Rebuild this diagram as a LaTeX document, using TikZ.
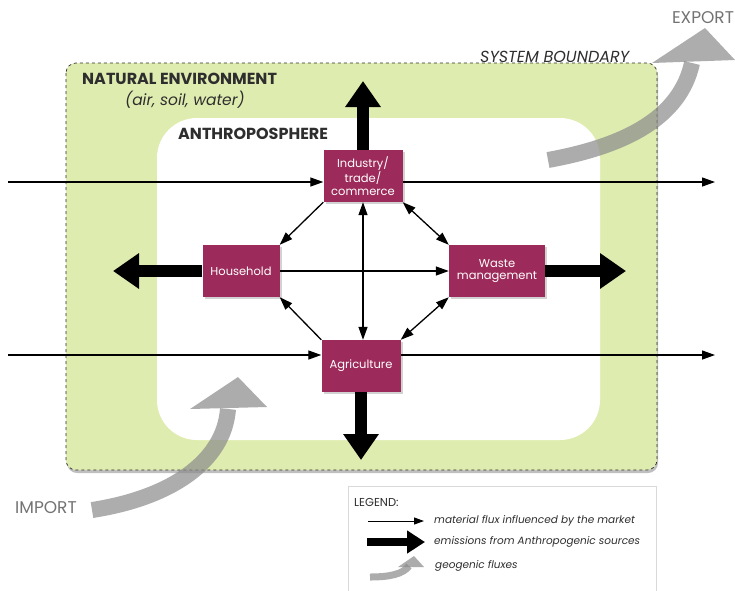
\documentclass[tikz,border=0pt]{standalone}
\usepackage{fontspec}
\setmainfont{Poppins}
\usetikzlibrary{arrows.meta,shadows,calc}
\definecolor{envgreen}{HTML}{DFECB0}
\definecolor{boxred}{HTML}{9C2A5A}
\definecolor{txt}{HTML}{2E2E2E}
\definecolor{geo}{HTML}{8A8A8A}
\begin{document}
\begin{tikzpicture}[x=1pt,y=-1pt,
  proc/.style={draw=none, fill=boxred, text=white, font=\fontsize{11.5}{12.5}\selectfont, align=center,
    minimum height=52pt, inner sep=2pt,
    drop shadow={opacity=0.35,shadow xshift=2pt,shadow yshift=-2pt}},
  flow/.style={line width=1.3pt, -{Triangle[length=13pt,width=9pt]}},
  biflow/.style={line width=1.3pt, {Triangle[length=13pt,width=9pt]}-{Triangle[length=13pt,width=9pt]}},
  emis/.style={line width=12pt, -{Triangle[length=26pt,width=34pt]}},
  geoshaft/.style={draw=geo, line width=16pt, opacity=0.7},
  geohead/.style={fill=geo, opacity=0.7},
  lbl/.style={text=txt, inner sep=0pt},
]
\useasboundingbox (0,0) rectangle (735,590);

% natural environment
\path[fill=envgreen, rounded corners=10pt,
  drop shadow={opacity=0.5,shadow xshift=1pt,shadow yshift=-3pt}] (66,63) rectangle (657,470);
\draw[dashed, txt, line width=0.7pt, rounded corners=10pt] (66,63) rectangle (657,470);
% anthroposphere
\fill[white, rounded corners=40pt] (157,118) rectangle (600,440);

\node[lbl, anchor=west, font=\fontsize{16}{18}\selectfont\bfseries] (ne) at (82,79) {NATURAL ENVIRONMENT};
\node[lbl, anchor=west, font=\fontsize{15.5}{18}\selectfont\itshape] (nesub) at (125,100) {(air, soil, water)};
\node[lbl, anchor=west, font=\fontsize{16}{18}\selectfont\bfseries] (anth) at (178,134) {ANTHROPOSPHERE};
\node[lbl, anchor=west, font=\fontsize{16}{18}\selectfont\itshape] (sb) at (480,57) {SYSTEM BOUNDARY};

% process boxes
\node[proc, minimum width=79pt] (ind) at (363,176) {Industry/\\trade/\\commerce};
\node[proc, minimum width=77pt] (hh) at (241,271) {Household};
\node[proc, minimum width=96pt] (wm) at (497,271) {Waste\\management};
\node[proc, minimum width=79pt] (agr) at (361,366) {Agriculture};

% through flows
\coordinate (inA) at (8,182);
\coordinate (outA) at (715,182);
\coordinate (inB) at (8,355);
\coordinate (outB) at (715,355);
\draw[flow] (inA) -- (ind.west |- inA);
\draw[flow] (ind.east |- outA) -- (outA);
\draw[flow] (inB) -- (agr.west |- inB);
\draw[flow] (agr.east |- outB) -- (outB);

% internal flows
\draw[flow] (ind.south west) -- (hh.north east);
\draw[biflow] (ind.south east) -- (wm.north west);
\draw[biflow] (ind.south) -- (agr.north -| ind.south);
\draw[flow] (hh.east) -- (wm.west);
\draw[flow] (agr.north west) -- (hh.south east);
\draw[biflow] (agr.north east) -- (wm.south west);

% emissions
\coordinate (eUp) at (363,81);
\coordinate (eLeft) at (113,271);
\coordinate (eRight) at (626,271);
\coordinate (eDown) at (361,460);
\draw[emis] (ind.north) -- (eUp);
\draw[emis] (hh.west) -- (eLeft);
\draw[emis] (wm.east) -- (eRight);
\draw[emis] (agr.south) -- (eDown);

% geogenic export
\draw[geoshaft] (548,160) .. controls (625,146) and (680,118) .. (692,63);
\fill[geohead] (652,63) -- (705,28) -- (735,60) -- cycle;
\node[lbl, font=\fontsize{17}{19}\selectfont, text=gray!90!black] (exp) at (703,18) {EXPORT};
% geogenic import
\draw[geoshaft] (92,510) .. controls (170,498) and (224,462) .. (228,409);
\fill[geohead] (190,409) -- (238,377) -- (267,407) -- cycle;
\node[lbl, font=\fontsize{17}{19}\selectfont, text=gray!90!black] (imp) at (46,508) {IMPORT};

% legend
\draw[gray!30, fill=white] (348,486) rectangle (656,600);
\node[lbl, anchor=west, font=\fontsize{11.5}{13}\selectfont] (leg) at (354,502) {LEGEND:};
\coordinate (l1a) at (368,521); \coordinate (l1b) at (424,521);
\draw[line width=1pt, -{Triangle[length=10pt,width=7pt]}] (l1a) -- (l1b);
\node[lbl, anchor=west, font=\fontsize{10.5}{12}\selectfont\itshape] (t1) at (434,521) {material flux influenced by the market};
\coordinate (l2a) at (367,542); \coordinate (l2b) at (425,542);
\draw[line width=8pt, -{Triangle[length=18pt,width=22pt]}] (l2a) -- (l2b);
\node[lbl, anchor=west, font=\fontsize{10.5}{12}\selectfont\itshape] (t2) at (434,542) {emissions from Anthropogenic sources};
\draw[draw=geo, line width=7pt, opacity=0.7] (370,577) .. controls (390,577) and (403,574) .. (409,566);
\fill[geohead] (398,567) -- (414,556) -- (424,567) -- cycle;
\node[lbl, anchor=west, font=\fontsize{10.5}{12}\selectfont\itshape] (t3) at (435,566) {geogenic fluxes};
\end{tikzpicture}
\end{document}
